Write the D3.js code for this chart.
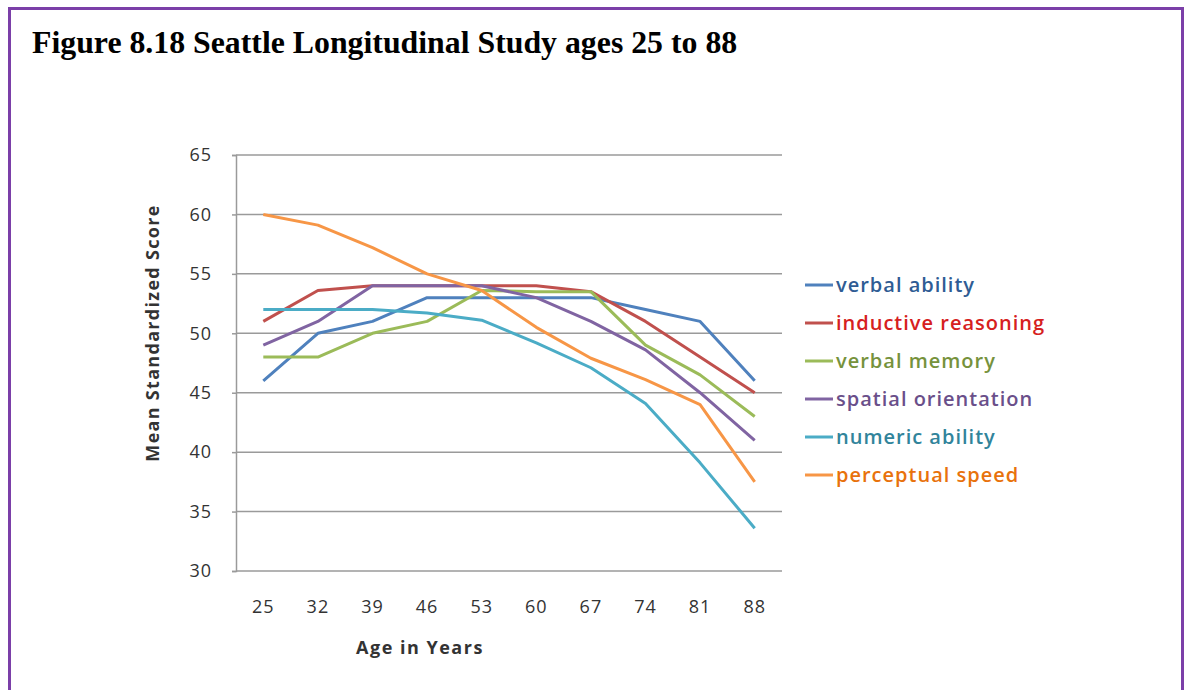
<!DOCTYPE html>
<html><head><meta charset="utf-8">
<script src="https://cdn.jsdelivr.net/npm/d3@7"></script>
<style>body{margin:0;background:#fff}svg{display:block}</style>
</head><body>
<svg id="c" width="1185" height="690"></svg>
<script>
const ages = ["25","32","39","46","53","60","67","74","81","88"];
const yTicks = [30,35,40,45,50,55,60,65];
const verbalAbility = [46,50,51,53,53,53,53,52,51,46];
const inductiveReasoning = [51,53.6,54,54,54,54,53.5,51,48,45];
const verbalMemory = [48,48,50,51,53.6,53.5,53.5,49,46.5,43];
const spatialOrientation = [49,51,54,54,54,53,51,48.6,45,41];
const numericAbility = [52,52,52,51.7,51.1,49.2,47.1,44.1,39.1,33.6];
const perceptualSpeed = [60,59.1,57.2,55,53.6,50.5,47.9,46.1,44,37.5];
const seriesNames = ["verbal ability","inductive reasoning","verbal memory","spatial orientation","numeric ability","perceptual speed"];
const lineColors = ["#4F81BD","#C0504D","#9BBB59","#8064A2","#4BACC6","#F79646"];
const textColors = ["#2F5C94","#D62020","#76923C","#6A4F8A","#31849B","#E8720C"];
const seriesValues = [verbalAbility,inductiveReasoning,verbalMemory,spatialOrientation,numericAbility,perceptualSpeed];

const svg = d3.select("#c");
// frame
svg.append("rect").attr("x",9.5).attr("y",8.5).attr("width",1173).attr("height",700)
  .attr("fill","none").attr("stroke","#7B3FA8").attr("stroke-width",3);
svg.append("text").attr("x",32).attr("y",53)
  .attr("font-family","Liberation Serif").attr("font-weight","bold").attr("font-size",31.8)
  .attr("fill","#000").text("Figure 8.18 Seattle Longitudinal Study ages 25 to 88");

const L=236,R=782,T=155,B=571;
const x = d3.scaleBand().domain(ages).range([L,R]);
const y = d3.scaleLinear().domain([30,65]).range([B,T]);
const font = "'Open Sans', sans-serif";

// gridlines
svg.append("g").selectAll("line").data(yTicks).join("line")
  .attr("x1",L).attr("x2",R).attr("y1",d=>y(d)).attr("y2",d=>y(d))
  .attr("stroke","#9a9a9a").attr("stroke-width",1.5);

// y axis
const ya = svg.append("g").attr("transform",`translate(${L},0)`)
  .call(d3.axisLeft(y).tickValues(yTicks).tickSize(4).tickPadding(20));
ya.select(".domain").attr("stroke","#9a9a9a").attr("stroke-width",1.5);
ya.selectAll(".tick line").attr("stroke","#9a9a9a").attr("stroke-width",1.5);
ya.selectAll(".tick text").attr("font-family",font).attr("font-size",18).attr("letter-spacing",1).attr("fill","#333");

// x axis
const xa = svg.append("g").attr("transform",`translate(0,${B})`)
  .call(d3.axisBottom(x).tickSize(0).tickPadding(29));
xa.select(".domain").remove();
xa.selectAll(".tick text").attr("font-family",font).attr("font-size",18).attr("letter-spacing",1).attr("fill","#333");

// axis titles
svg.append("text").attr("x",420).attr("y",654).attr("text-anchor","middle")
  .attr("font-family",font).attr("font-weight","bold").attr("font-size",18).attr("letter-spacing",1.5).attr("fill","#333")
  .text("Age in Years");
svg.append("text").attr("transform","translate(159,333) rotate(-90)").attr("text-anchor","middle")
  .attr("font-family",font).attr("font-weight","bold").attr("font-size",18).attr("letter-spacing",1.3).attr("fill","#333")
  .text("Mean Standardized Score");

// lines
const line = d3.line().x((d,i)=>x(ages[i])+x.bandwidth()/2).y(d=>y(d));
svg.append("g").selectAll("path").data(seriesValues).join("path")
  .attr("d",line).attr("fill","none").attr("stroke",(d,i)=>lineColors[i])
  .attr("stroke-width",3).attr("stroke-linejoin","round");

// legend
const lg = svg.append("g").selectAll("g").data(seriesNames).join("g")
  .attr("transform",(d,i)=>`translate(805,${285+i*38})`);
lg.append("line").attr("x1",0).attr("x2",28).attr("stroke",(d,i)=>lineColors[i]).attr("stroke-width",3);
lg.append("text").attr("x",31).attr("dy","0.35em").attr("font-family",font).attr("font-weight","600")
  .attr("font-size",20).attr("letter-spacing",1).attr("fill",(d,i)=>textColors[i]).text(d=>d);
</script>
</body></html>
